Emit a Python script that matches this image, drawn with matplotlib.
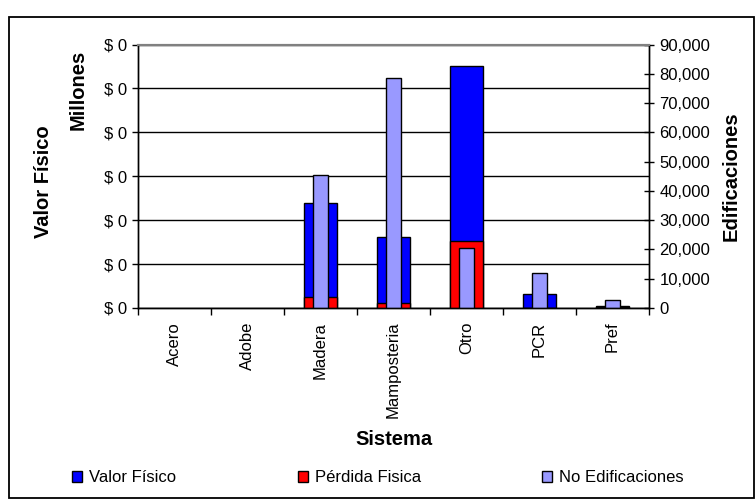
import matplotlib.pyplot as plt
import numpy as np
from matplotlib.patches import Patch, Rectangle
from matplotlib.ticker import FuncFormatter, MultipleLocator

plt.rcParams["font.family"] = ["Liberation Sans", "DejaVu Sans"]

sistemas = ["Acero", "Adobe", "Madera", "Mamposteria", "Otro", "PCR", "Pref"]
# valores en millones de pesos
valor_fisico = [0.0, 0.0, 0.119, 0.081, 0.276, 0.0156, 0.0028]
perdida_fisica = [0.0, 0.0, 0.0128, 0.0053, 0.0765, 0.0005, 0.001]
no_edificaciones = [0, 0, 45300, 78700, 20400, 12000, 2600]

BLUE = "#0000ff"
RED = "#ff0000"
LILAC = "#9999ff"

fig = plt.figure(figsize=(7.56, 4.99), dpi=100)
ax = fig.add_axes([0.1825, 0.3828, 0.676, 0.528])
ax2 = ax.twinx()

x = np.arange(len(sistemas))
bars = [
    ax.bar(x, valor_fisico, width=0.44, color=BLUE, edgecolor="black", linewidth=1.0, zorder=2),
    ax.bar(x, perdida_fisica, width=0.44, color=RED, edgecolor="black", linewidth=1.0, zorder=3),
    ax2.bar(x, no_edificaciones, width=0.2, color=LILAC, edgecolor="black", linewidth=1.0, zorder=2),
]
# las barras con valor cero no se dibujan
for container in bars:
    for rect in container:
        if rect.get_height() == 0:
            rect.set_visible(False)

ax.set_xlim(-0.5, len(sistemas) - 0.5)
ax.set_ylim(0, 0.3)
ax2.set_ylim(0, 90000)

# eje izquierdo: millones de pesos, con las líneas de división
ax.yaxis.set_major_locator(MultipleLocator(0.05))
ax.yaxis.set_major_formatter(FuncFormatter(lambda v, p: f"$ {v:.0f}"))
ax.grid(axis="y", color="black", linewidth=1.0, zorder=0)
ax.set_axisbelow(True)
ax.tick_params(axis="y", direction="out", length=4, width=1, labelsize=12, pad=4)

# eje derecho: número de edificaciones
ax2.yaxis.set_major_locator(MultipleLocator(10000))
ax2.yaxis.set_major_formatter(FuncFormatter(lambda v, p: f"{v:,.0f}"))
ax2.tick_params(axis="y", direction="inout", length=7, width=1, labelsize=12, pad=4)

# categorías con marcas en los límites
ax.set_xticks(x)
ax.set_xticklabels(sistemas, rotation=90, fontsize=12)
ax.set_xticks(np.arange(len(sistemas) + 1) - 0.5, minor=True)
ax.tick_params(axis="x", which="major", length=0, pad=10)
ax.tick_params(axis="x", which="minor", direction="out", length=5, width=1)

for a in (ax, ax2):
    for side in ("left", "right", "bottom"):
        a.spines[side].set_color("black")
        a.spines[side].set_linewidth(1.0)
    a.spines["top"].set_color("#808080")
    a.spines["top"].set_linewidth(1.5)

ax.set_xlabel("Sistema", fontsize=14.5, fontweight="bold", labelpad=8)
ax2.set_ylabel("Edificaciones", fontsize=14.5, fontweight="bold", labelpad=8)
fig.text(0.057, 0.636, "Valor Físico", rotation=90, fontsize=14.5, fontweight="bold",
         ha="center", va="center")
fig.text(0.103, 0.82, "Millones", rotation=90, fontsize=14.5, fontweight="bold",
         ha="center", va="center")

handles = [
    Patch(facecolor=BLUE, edgecolor="black", linewidth=1.0, label="Valor Físico"),
    Patch(facecolor=RED, edgecolor="black", linewidth=1.0, label="Pérdida Fisica"),
    Patch(facecolor=LILAC, edgecolor="black", linewidth=1.0, label="No Edificaciones"),
]
fig.legend(handles=handles, loc="center", bbox_to_anchor=(0.5, 1 - 478 / 499), ncol=3,
           frameon=False, fontsize=12, handlelength=0.6, handleheight=0.6,
           handletextpad=0.4, columnspacing=7.3)

# marco exterior del gráfico
fig.patches.append(Rectangle((9 / 756, 1 / 499), 745 / 756, 481 / 499,
                             transform=fig.transFigure, fill=False,
                             edgecolor="black", linewidth=1.3))

fig.savefig("out.png", dpi=100)
